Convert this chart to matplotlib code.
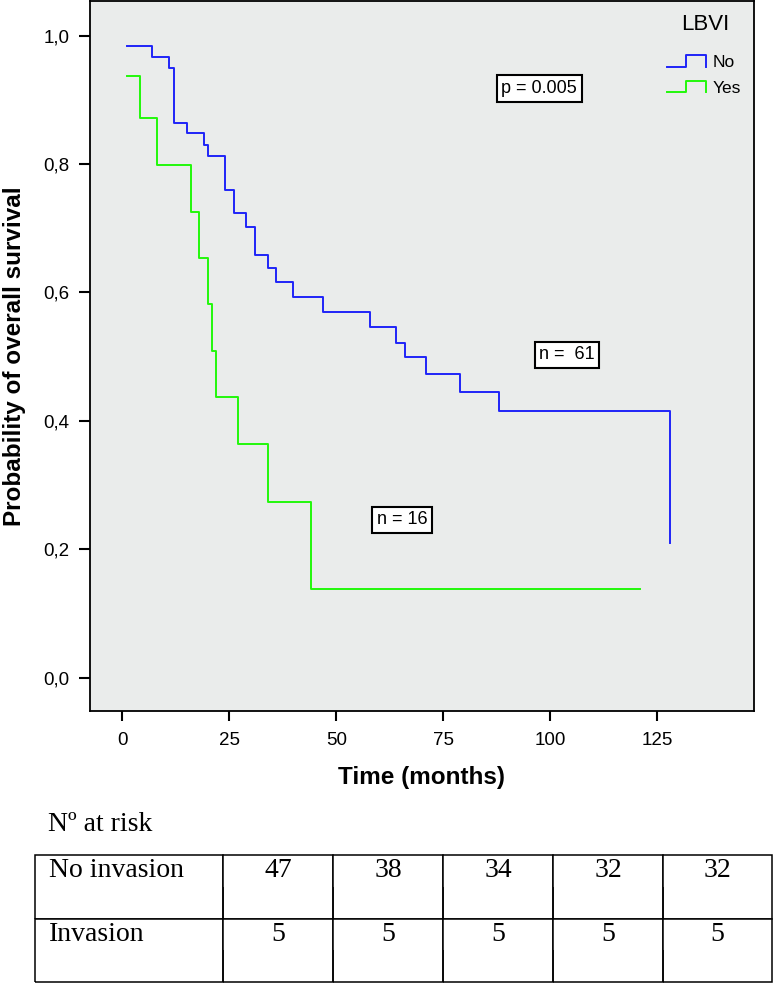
import matplotlib
matplotlib.use("Agg")
import matplotlib.pyplot as plt
from matplotlib.legend_handler import HandlerBase
from matplotlib.lines import Line2D

# ---------------- data ----------------
no_time = [1, 7, 11, 12, 15, 19, 20, 24, 26, 29, 31, 34, 36, 40, 47, 58, 64, 66, 71, 79, 88, 128]
no_surv = [0.983, 0.966, 0.949, 0.864, 0.848, 0.830, 0.813, 0.760, 0.723, 0.702, 0.659,
           0.638, 0.616, 0.593, 0.570, 0.546, 0.522, 0.499, 0.473, 0.445, 0.416, 0.210]
yes_time = [1, 4, 8, 16, 18, 20, 21, 22, 27, 34, 44, 121]
yes_surv = [0.9375, 0.871, 0.798, 0.726, 0.654, 0.582, 0.509, 0.437, 0.364, 0.274, 0.1385, 0.1385]

group_labels = ["No", "Yes"]
legend_title = "LBVI"
x_ticks = [0, 25, 50, 75, 100, 125]
y_ticks = [0.0, 0.2, 0.4, 0.6, 0.8, 1.0]
y_tick_labels = ["0,0", "0,2", "0,4", "0,6", "0,8", "1,0"]

risk_rows = ["No invasion", "Invasion"]
risk_no = [47, 38, 34, 32, 32]
risk_yes = [5, 5, 5, 5, 5]

# ---------------- figure ----------------
W, H = 773, 984
fig = plt.figure(figsize=(W / 100, H / 100), dpi=100)
fig.patch.set_facecolor("white")

def fx(px):
    return px / W

def fy(py):
    return 1 - py / H

ax = fig.add_axes([fx(89.5), fy(711), fx(754) - fx(89.5), fy(1) - fy(711)])
ax.set_facecolor("#EAECEB")

blue = "#1F24F8"
green = "#22F80A"
l1, = ax.step(no_time, no_surv, where="post", color=blue, lw=1.4, label=group_labels[0])
l2, = ax.step(yes_time, yes_surv, where="post", color=green, lw=1.4, label=group_labels[1])

ax.set_xlim(-7.7, 147.7)
ax.set_ylim(-0.0514, 1.0537)

for s in ax.spines.values():
    s.set_linewidth(1.3)
    s.set_color("black")

ax.set_xticks(x_ticks)
ax.set_yticks(y_ticks)
ax.set_yticklabels(y_tick_labels)
ax.tick_params(axis="y", direction="out", length=8, width=1.5, pad=6.5, labelsize=13.5)
ax.tick_params(axis="x", direction="out", length=7.5, width=1.5, pad=7.5, labelsize=13.5)
for lab in ax.get_xticklabels() + ax.get_yticklabels():
    lab.set_fontfamily("Liberation Sans")

ax.set_xlabel("Time (months)", fontsize=17.5, fontweight="bold", family="Liberation Sans")
ax.set_ylabel("Probability of overall survival", fontsize=17.5, fontweight="bold",
              family="Liberation Sans")
ax.xaxis.set_label_coords(0.499, -0.078)
ax.yaxis.set_label_coords(-0.096, 0.5)

box = dict(boxstyle="square,pad=0.25", fc="white", ec="black", lw=1.5)
ax.text(97.5, 0.9175, "p = 0.005", fontsize=13, family="Liberation Sans",
        ha="center", va="center", bbox=box)
ax.text(104, 0.503, "n =  61", fontsize=13, family="Liberation Sans",
        ha="center", va="center", bbox=box)
ax.text(65.4, 0.246, "n = 16", fontsize=13, family="Liberation Sans",
        ha="center", va="center", bbox=box)


class StepHandler(HandlerBase):
    def create_artists(self, legend, orig_handle, xdescent, ydescent, width, height,
                       fontsize, trans):
        x0, y0 = -xdescent, -ydescent
        xs = [x0, x0 + 0.49 * width, x0 + 0.49 * width, x0 + width, x0 + width]
        ys = [y0, y0, y0 + height, y0 + height, y0]
        ln = Line2D(xs, ys, color=orig_handle.get_color(), lw=1.4, transform=trans)
        return [ln]


leg = ax.legend(handles=[l1, l2], loc="upper left",
                bbox_to_anchor=(fx(666.7), fy(55)), bbox_transform=fig.transFigure,
                frameon=False, borderpad=0, borderaxespad=0,
                handler_map={Line2D: StepHandler()},
                handlelength=2.25, handleheight=0.62, handletextpad=0.4,
                labelspacing=0.62, prop={"family": "Liberation Sans", "size": 12.5})
ax.text(fx(705), fy(25), legend_title, transform=fig.transFigure,
        family="Liberation Sans", fontsize=16, ha="center", va="center")

# ---------------- number at risk ----------------
fig.text(fx(48), fy(831), "Nº at risk", family="Liberation Serif", fontsize=20,
         va="baseline", ha="left")

tax = fig.add_axes([fx(35), fy(982), fx(772) - fx(35), fy(855) - fy(982)])
tax.axis("off")
cell_text = [
    [risk_rows[0]] + [str(v) for v in risk_no],
    [""] * 6,
    [risk_rows[1]] + [str(v) for v in risk_yes],
    [""] * 6,
]
col_w = [188, 110, 110, 110, 110, 109]
tot = sum(col_w)
tbl = tax.table(cellText=cell_text, colWidths=[c / tot for c in col_w],
                cellLoc="center", bbox=[0, 0, 1, 1])
tbl.auto_set_font_size(False)
tbl.set_fontsize(20)
for (r, c), cell in tbl.get_celld().items():
    cell.set_linewidth(1.1)
    cell.set_edgecolor("black")
    cell.get_text().set_fontfamily("Liberation Serif")
    cell.visible_edges = "LRT" if r % 2 == 0 else "LRB"
    if c == 0:
        cell.get_text().set_ha("left")
        cell.PAD = 0.075

fig.savefig("out.png", dpi=100, facecolor="white")
